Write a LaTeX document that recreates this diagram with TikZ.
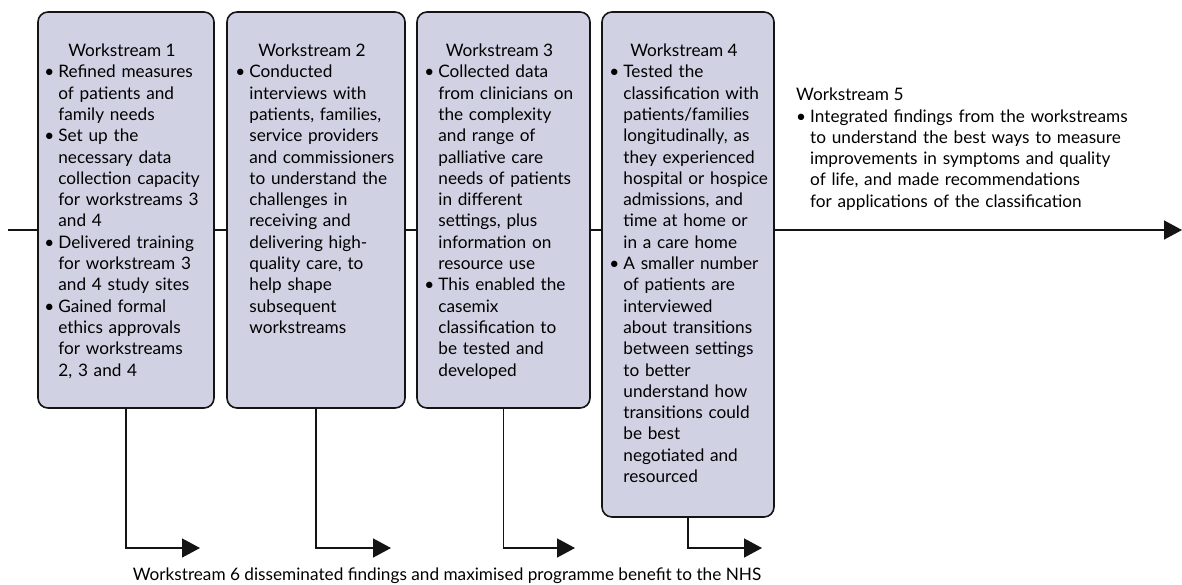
\documentclass[tikz,border=0pt]{standalone}
\usepackage{fontspec}
\setmainfont{Lato}
\definecolor{wsfill}{RGB}{208,210,227}
\definecolor{wsline}{RGB}{20,20,20}
\usetikzlibrary{calc,positioning,arrows.meta}
\newcommand{\bul}{\leavevmode\llap{\textbullet\hspace{4pt}}}

\begin{document}
\begin{tikzpicture}[x=1pt,y=-1pt,
  every node/.style={inner sep=0pt,font=\fontsize{17.2pt}{21.3pt}\selectfont},
  wsbox/.style={draw=wsline,fill=wsfill,line width=1.6pt,rounded corners=10pt},
  wshead/.style={anchor=base},
  wsbody/.style={anchor=base west,text width=170pt,align=left},
  flow/.style={draw=wsline,line width=1.5pt,-{Triangle[length=18pt,width=19pt]}}]
        \useasboundingbox (0,0) rectangle (1182,584);
        \coordinate (in) at (8,230);
        \coordinate (out) at (1182,230);
        \draw[flow] (in) -- (out);
        \node[wsbox,minimum width=176pt,minimum height=396pt] (ws1) at (126,210) {};
        \node[wsbox,minimum width=178pt,minimum height=396pt] (ws2) at (316,210) {};
        \node[wsbox,minimum width=173pt,minimum height=396pt] (ws3) at (503.5,210) {};
        \node[wsbox,minimum width=172pt,minimum height=505pt] (ws4) at (688,264.5) {};
        \foreach \i in {1,...,4}
            \node[wshead] (h\i) at ($(ws\i.north)+(-4,45.3)$) {Workstream \i};
        \node[wsbody] (b1) at ($(ws1.north west)+(21,66.6)$) {\bul Refined measures\\
            of patients and\\ family needs\\ \bul Set up the\\ necessary data\\
            collection capacity\\ for workstreams 3\\ and 4\\ \bul Delivered training\\
            for workstream 3\\ and 4 study sites\\ \bul Gained formal\\
            ethics approvals\\ for workstreams\\ 2, 3 and 4};
        \node[wsbody] (b2) at ($(ws2.north west)+(23,66.6)$) {\bul Conducted\\
            interviews with\\ patients, families,\\ service providers\\
            and commissioners\\ to understand the\\ challenges in\\ receiving and\\
            delivering high-\\ quality care, to\\ help shape\\ subsequent\\ workstreams};
        \node[wsbody] (b3) at ($(ws3.north west)+(22,66.6)$) {\bul Collected data\\
            from clinicians on\\ the complexity\\ and range of\\ palliative care\\
            needs of patients\\ in different\\ settings, plus\\ information on\\
            resource use\\ \bul This enabled the\\ casemix\\ classification to\\
            be tested and\\ developed};
        \node[wsbody] (b4) at ($(ws4.north west)+(22,66.6)$) {\bul Tested the\\
            classification with\\ patients/families\\ longitudinally, as\\
            they experienced\\ hospital or hospice\\ admissions, and\\ time at home or\\
            in a care home\\ \bul A smaller number\\ of patients are\\ interviewed\\
            about transitions\\ between settings\\ to better\\ understand how\\
            transitions could\\ be best\\ negotiated and\\ resourced};
        \node[anchor=base west] (h5) at (796,100.7) {Workstream 5};
        \node[wsbody,text width=340pt] (b5) at (810,122) {\bul Integrated findings from the workstreams\\
            to understand the best ways to measure\\ improvements in symptoms and quality\\
            of life, and made recommendations\\ for applications of the classification};
        \foreach \i/\x in {1/200,2/391,3/575,4/762} {
            \coordinate (d\i) at (\x,548);
            \draw[flow] (ws\i.south) |- (d\i);
        }
        \node[anchor=base] (ws6) at (447,580) {Workstream 6 disseminated findings and maximised programme benefit to the NHS};
\end{tikzpicture}
\end{document}
